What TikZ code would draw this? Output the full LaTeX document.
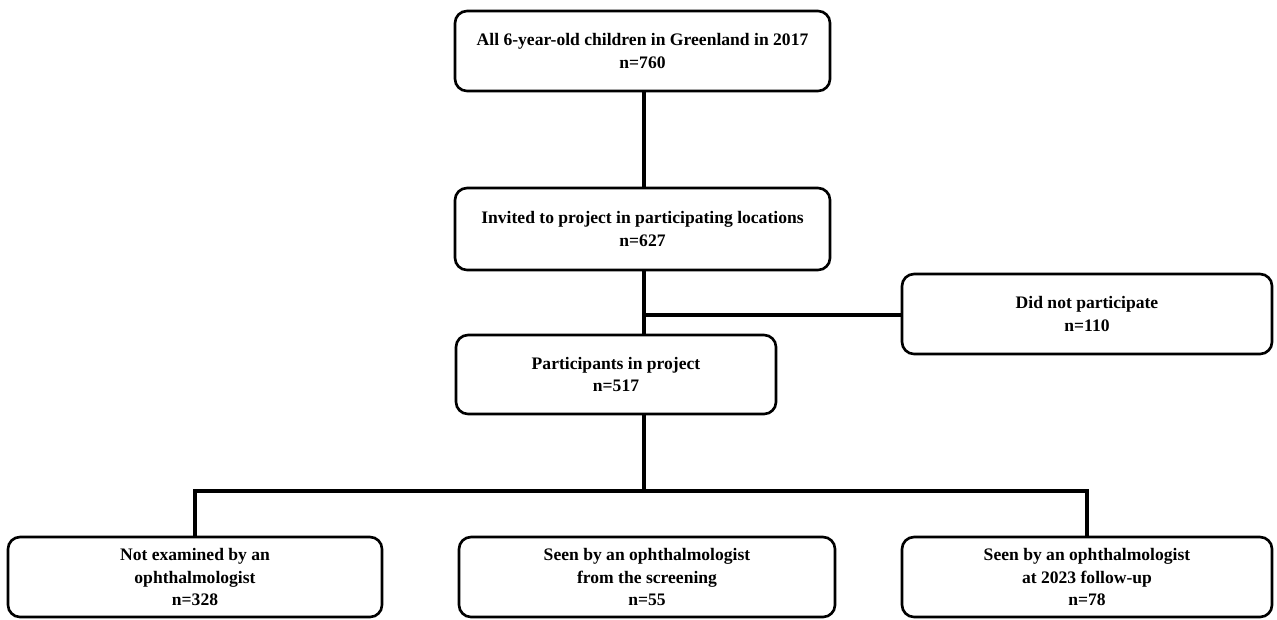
\documentclass[tikz,border=0pt]{standalone}
\usepackage{fontspec}
\setmainfont{Liberation Serif}
\usetikzlibrary{positioning}

\begin{document}
\begin{tikzpicture}[
  flowbox/.style={rectangle,rounded corners=0.24cm,draw=black,line width=1.5pt,fill=white,align=center,minimum height=1.6cm,font=\fontsize{10}{12.8}\selectfont\bfseries},
  link/.style={draw=black,line width=1.8pt}
]
\useasboundingbox (0,0) rectangle (25.54,-12.38);
\node at (12.85,-1.02)[flowbox,minimum width=7.5cm](all){All 6-year-old children in Greenland in 2017\\n=760};
\node at (12.85,-4.58)[flowbox,minimum width=7.5cm,minimum height=1.64cm](invited){Invited to project in participating locations\\n=627};
\node at (21.74,-6.28)[flowbox,minimum width=7.4cm](nopart){Did not participate\\n=110};
\node at (12.32,-7.49)[flowbox,minimum width=6.4cm,minimum height=1.58cm](particip){Participants in project\\n=517};
\node at (3.9,-11.54)[flowbox,minimum width=7.48cm](notexam){Not examined by an\\ophthalmologist\\n=328};
\node at (12.94,-11.54)[flowbox,minimum width=7.52cm](screen){Seen by an ophthalmologist\\from the screening\\n=55};
\node at (21.74,-11.54)[flowbox,minimum width=7.4cm](follow){Seen by an ophthalmologist\\at 2023 follow-up\\n=78};
\coordinate (split) at (12.88,-6.3);
\coordinate (hub) at (12.88,-9.82);
\draw[link] (all.south -| split) -- (invited.north -| split);
\draw[link] (invited.south -| split) -- (particip.north -| split);
\draw[link] (split) -- (nopart.west |- split);
\draw[link] (particip.south -| hub) -- (hub);
\draw[link] (notexam.north) -- (notexam.north |- hub) -- (follow.north |- hub) -- (follow.north);
\end{tikzpicture}
\end{document}
